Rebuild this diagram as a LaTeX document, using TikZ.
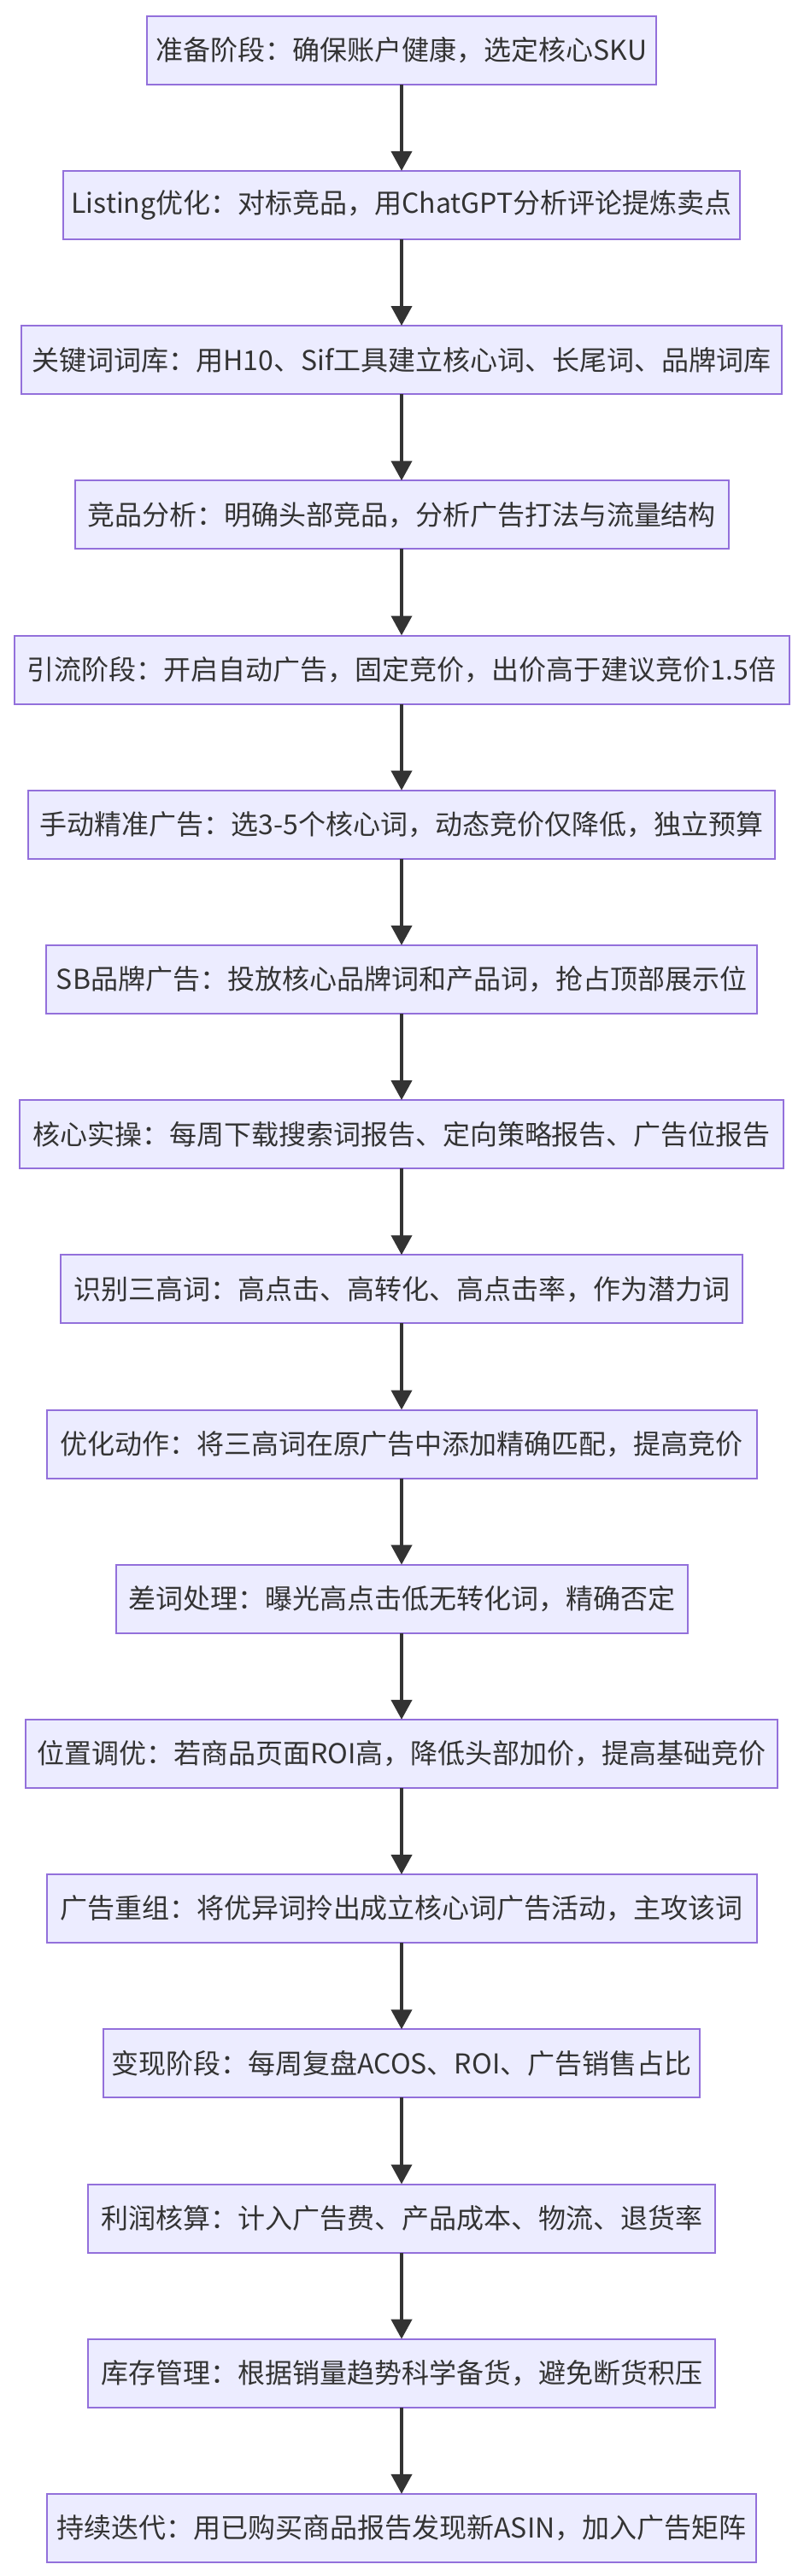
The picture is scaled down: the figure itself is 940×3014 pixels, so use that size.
\documentclass[tikz,border=0pt]{standalone}
\usepackage{fontspec}
\setmainfont{Noto Sans CJK SC}
\usetikzlibrary{arrows.meta,positioning}
\definecolor{boxfill}{HTML}{ECECFF}
\definecolor{boxline}{HTML}{9370DB}
\definecolor{inkgray}{HTML}{333333}
\tikzset{
  stepbox/.style={draw=boxline, fill=boxfill, line width=2pt, outer sep=0pt, inner xsep=0pt,
    minimum height=80pt, align=center, text=inkgray, font=\fontsize{32pt}{38pt}\selectfont},
  arrow/.style={-{Triangle[length=23pt, width=24pt]}, line width=4pt, draw=inkgray}
}

\begin{document}
\begin{tikzpicture}[node distance=101.2pt]
  \useasboundingbox (0pt,0pt) rectangle (940pt,-3014pt);
  \node[stepbox, minimum width=596pt] (prep) at (470pt,-58.7pt) {准备阶段：确保账户健康，选定核心SKU};
  \node[stepbox, minimum width=792pt, below=of prep] (listing) {Listing优化：对标竞品，用ChatGPT分析评论提炼卖点};
  \node[stepbox, minimum width=890pt, below=of listing] (kwlib) {关键词词库：用H10、Sif工具建立核心词、长尾词、品牌词库};
  \node[stepbox, minimum width=765pt, below=of kwlib] (rival) {竞品分析：明确头部竞品，分析广告打法与流量结构};
  \node[stepbox, minimum width=907pt, below=of rival] (traffic) {引流阶段：开启自动广告，固定竞价，出价高于建议竞价1.5倍};
  \node[stepbox, minimum width=874pt, below=of traffic] (manual) {手动精准广告：选3-5个核心词，动态竞价仅降低，独立预算};
  \node[stepbox, minimum width=832pt, below=of manual] (sbads) {SB品牌广告：投放核心品牌词和产品词，抢占顶部展示位};
  \node[stepbox, minimum width=894pt, below=of sbads] (core) {核心实操：每周下载搜索词报告、定向策略报告、广告位报告};
  \node[stepbox, minimum width=798pt, below=of core] (spot) {识别三高词：高点击、高转化、高点击率，作为潜力词};
  \node[stepbox, minimum width=831pt, below=of spot] (tune) {优化动作：将三高词在原广告中添加精确匹配，提高竞价};
  \node[stepbox, minimum width=669pt, below=of tune] (negate) {差词处理：曝光高点击低无转化词，精确否定};
  \node[stepbox, minimum width=880pt, below=of negate] (place) {位置调优：若商品页面ROI高，降低头部加价，提高基础竞价};
  \node[stepbox, minimum width=831pt, below=of place] (regroup) {广告重组：将优异词拎出成立核心词广告活动，主攻该词};
  \node[stepbox, minimum width=698pt, below=of regroup] (cash) {变现阶段：每周复盘ACOS、ROI、广告销售占比};
  \node[stepbox, minimum width=734pt, below=of cash] (profit) {利润核算：计入广告费、产品成本、物流、退货率};
  \node[stepbox, minimum width=734pt, below=of profit] (stock) {库存管理：根据销量趋势科学备货，避免断货积压};
  \node[stepbox, minimum width=830pt, below=of stock] (iterate) {持续迭代：用已购买商品报告发现新ASIN，加入广告矩阵};

  \draw[arrow] (prep) -- (listing);
  \draw[arrow] (listing) -- (kwlib);
  \draw[arrow] (kwlib) -- (rival);
  \draw[arrow] (rival) -- (traffic);
  \draw[arrow] (traffic) -- (manual);
  \draw[arrow] (manual) -- (sbads);
  \draw[arrow] (sbads) -- (core);
  \draw[arrow] (core) -- (spot);
  \draw[arrow] (spot) -- (tune);
  \draw[arrow] (tune) -- (negate);
  \draw[arrow] (negate) -- (place);
  \draw[arrow] (place) -- (regroup);
  \draw[arrow] (regroup) -- (cash);
  \draw[arrow] (cash) -- (profit);
  \draw[arrow] (profit) -- (stock);
  \draw[arrow] (stock) -- (iterate);
\end{tikzpicture}
\end{document}
